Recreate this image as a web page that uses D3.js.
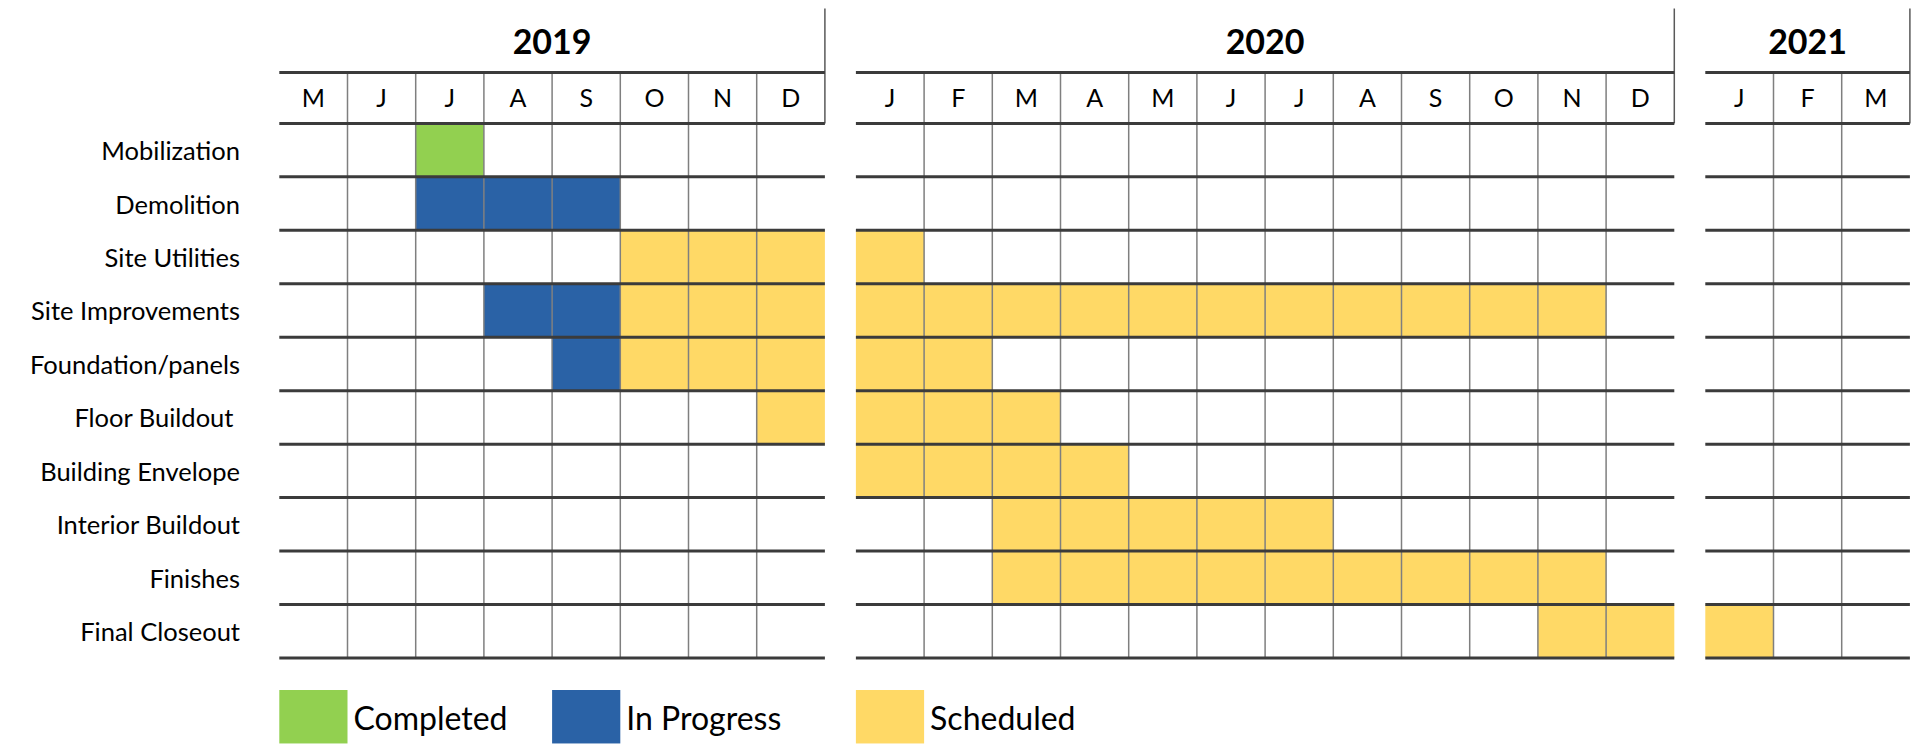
<!DOCTYPE html>
<html>
<meta charset="utf-8">
<title>Project Schedule</title>
<head>
  <script src="https://cdnjs.cloudflare.com/ajax/libs/d3/7.8.5/d3.min.js"></script>
  <style>
    body { margin: 0; background: #fff; }
    text { font-family: Lato, "Open Sans", sans-serif; fill: #000; }
  </style>
</head>
<body>
<script>
  var tasks = ["Mobilization", "Demolition", "Site Utilities", "Site Improvements",
    "Foundation/panels", "Floor Buildout ", "Building Envelope", "Interior Buildout",
    "Finishes", "Final Closeout"];
  var years = ["2019", "2020", "2021"];
  var yearMonths = [
    ["M", "J", "J", "A", "S", "O", "N", "D"],
    ["J", "F", "M", "A", "M", "J", "J", "A", "S", "O", "N", "D"],
    ["J", "F", "M"]
  ];
  var firstMonth = [5, 1, 1];   // calendar month of the first column of each year
  var statuses = ["Completed", "In Progress", "Scheduled"];
  var statusColors = ["#92d050", "#2a62a6", "#ffd966"];
  var legendMonths = ["2019-05", "2019-09", "2020-01"];
  // task, status, first month, last month
  var bars = [
    ["Mobilization", "Completed", "2019-07", "2019-07"],
    ["Demolition", "In Progress", "2019-07", "2019-09"],
    ["Site Utilities", "Scheduled", "2019-10", "2020-01"],
    ["Site Improvements", "In Progress", "2019-08", "2019-09"],
    ["Site Improvements", "Scheduled", "2019-10", "2020-11"],
    ["Foundation/panels", "In Progress", "2019-09", "2019-09"],
    ["Foundation/panels", "Scheduled", "2019-10", "2020-02"],
    ["Floor Buildout ", "Scheduled", "2019-12", "2020-03"],
    ["Building Envelope", "Scheduled", "2020-01", "2020-04"],
    ["Interior Buildout", "Scheduled", "2020-03", "2020-07"],
    ["Finishes", "Scheduled", "2020-03", "2020-11"],
    ["Final Closeout", "Scheduled", "2020-11", "2021-01"]
  ];

  var W = 1917, H = 744;
  var COL = 68.2, GAP = 31;
  var yearTop = 8.5, yearLine = 72.5, monthLine = 123.4, gridBottom = 658;

  // flat list of month columns
  var columns = [];
  years.forEach(function(y, g) {
    yearMonths[g].forEach(function(m, j) {
      var mm = firstMonth[g] + j;
      columns.push({key: y + "-" + (mm < 10 ? "0" : "") + mm, label: m, group: g, index: columns.length});
    });
  });
  var colByKey = {};
  columns.forEach(function(c) { colByKey[c.key] = c; });

  var xCol = d3.scaleLinear().domain([0, columns.length]).range([279.3, 279.3 + columns.length * COL]);
  function x(key) { var c = colByKey[key]; return xCol(c.index) + c.group * GAP; }
  var y = d3.scaleBand().domain(tasks).range([monthLine, gridBottom]);

  var groups = years.map(function(yr, g) {
    var cols = columns.filter(function(c) { return c.group === g; });
    return {year: yr, cols: cols, x0: x(cols[0].key), x1: x(cols[cols.length - 1].key) + COL};
  });

  // one cell per month of each bar
  var cells = [];
  bars.forEach(function(b) {
    var a = colByKey[b[2]].index, e = colByKey[b[3]].index;
    for (var i = a; i <= e; i++) cells.push({task: b[0], status: b[1], key: columns[i].key});
  });
  var color = d3.scaleOrdinal().domain(statuses).range(statusColors);

  var svg = d3.select("body").append("svg")
      .attr("width", W)
      .attr("height", H);

  svg.append("g").selectAll("rect")
      .data(cells)
      .enter().append("rect")
      .attr("x", function(d) { return x(d.key); })
      .attr("y", function(d) { return y(d.task); })
      .attr("width", COL)
      .attr("height", y.bandwidth())
      .style("fill", function(d) { return color(d.status); });

  // thin month separators
  var vlines = [];
  groups.forEach(function(g) {
    g.cols.slice(1).forEach(function(c) { vlines.push(x(c.key)); });
  });
  svg.append("g").selectAll("line")
      .data(vlines)
      .enter().append("line")
      .attr("x1", function(d) { return d; })
      .attr("x2", function(d) { return d; })
      .attr("y1", yearLine)
      .attr("y2", gridBottom)
      .style("stroke", "#7f7f7f")
      .style("stroke-width", 1.5);

  // right edge of each year header
  svg.append("g").selectAll("line")
      .data(groups)
      .enter().append("line")
      .attr("x1", function(d) { return d.x1; })
      .attr("x2", function(d) { return d.x1; })
      .attr("y1", yearTop)
      .attr("y2", monthLine)
      .style("stroke", "#595959")
      .style("stroke-width", 1.5);

  // thick horizontal rules
  var hy = [yearLine].concat(tasks.map(function(t) { return y(t); }), [gridBottom]);
  var hlines = [];
  groups.forEach(function(g) { hy.forEach(function(v) { hlines.push({x0: g.x0, x1: g.x1, y: v}); }); });
  svg.append("g").selectAll("line")
      .data(hlines)
      .enter().append("line")
      .attr("x1", function(d) { return d.x0; })
      .attr("x2", function(d) { return d.x1; })
      .attr("y1", function(d) { return d.y; })
      .attr("y2", function(d) { return d.y; })
      .style("stroke", "#3b3b3b")
      .style("stroke-width", 3);

  svg.append("g").selectAll("text")
      .data(groups)
      .enter().append("text")
      .attr("x", function(d) { return (d.x0 + d.x1) / 2; })
      .attr("y", (yearTop + yearLine) / 2 + 2)
      .attr("dy", "0.35em")
      .attr("text-anchor", "middle")
      .style("font-size", "34px")
      .style("font-weight", "bold")
      .text(function(d) { return d.year; });

  svg.append("g").selectAll("text")
      .data(columns)
      .enter().append("text")
      .attr("x", function(d) { return x(d.key) + COL / 2; })
      .attr("y", (yearLine + monthLine) / 2)
      .attr("dy", "0.35em")
      .attr("text-anchor", "middle")
      .style("font-size", "25px")
      .text(function(d) { return d.label; });

  svg.append("g").selectAll("text")
      .data(tasks)
      .enter().append("text")
      .attr("x", 240)
      .attr("y", function(d) { return y(d) + y.bandwidth() / 2 + 1; })
      .attr("dy", "0.35em")
      .attr("text-anchor", "end")
      .style("font-size", "25.5px")
      .style("white-space", "pre")
      .text(function(d) { return d; });

  var legend = svg.append("g").selectAll("g")
      .data(statuses)
      .enter().append("g")
      .attr("transform", function(d, i) { return "translate(" + x(legendMonths[i]) + ",690)"; });
  legend.append("rect")
      .attr("width", COL)
      .attr("height", y.bandwidth())
      .style("fill", function(d) { return color(d); });
  legend.append("text")
      .attr("x", COL + 6)
      .attr("y", y.bandwidth() / 2 + 2)
      .attr("dy", "0.35em")
      .style("font-size", "32px")
      .text(function(d) { return d; });
</script>
</body>
</html>
